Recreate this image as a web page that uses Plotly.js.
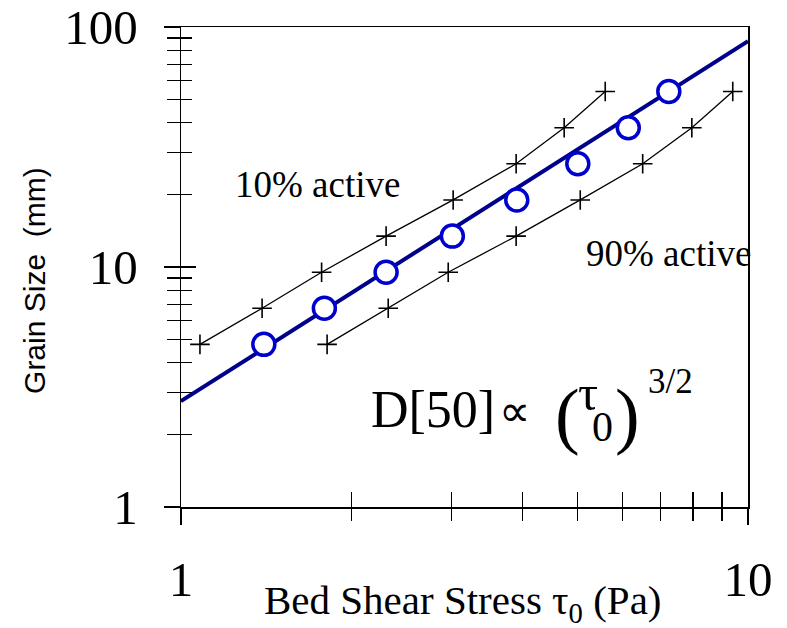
<!DOCTYPE html>
<html>
<head>
<meta charset="utf-8">
<script src="https://cdn.plot.ly/plotly-3.0.1.min.js"></script>
<style>html,body{margin:0;padding:0;background:#fff;}#chart{width:787px;height:628px;}</style>
</head>
<body>
<div id="chart"></div>
<script>
// Grain sizes (mm)
const grainSize = [4.76, 6.73, 9.51, 13.45, 19.03, 26.91, 38.05, 53.82];
// Bed shear stress (Pa) for each grain size
const tau50 = [1.40, 1.79, 2.30, 3.01, 3.91, 5.01, 6.15, 7.25];
const tau10 = [1.08, 1.39, 1.77, 2.30, 3.02, 3.90, 4.74, 5.60];
const tau90 = [1.81, 2.32, 2.96, 3.90, 5.06, 6.52, 7.96, 9.40];
// Fitted power law D50 ∝ tau^(3/2), end points
const fitTau = [1, 10];
const fitD = [2.76, 87.3];

const xMajor = [1, 10];
const xMinor = [2, 3, 4, 5, 6, 7, 8, 9];
const yMajor = [1, 10, 100];
const yMinor = [2, 3, 4, 5, 6, 7, 8, 9, 20, 30, 40, 50, 60, 70, 80, 90];

const serif = 'Liberation Serif, Times New Roman, serif';
const sans = 'Liberation Sans, Arial, sans-serif';

const traces = [
  {x: fitTau, y: fitD, mode: 'lines', line: {color: '#00008B', width: 4}, hoverinfo: 'skip', showlegend: false},
  {x: tau90, y: grainSize, mode: 'lines+markers', line: {color: '#000', width: 1.3},
   marker: {symbol: 'cross-thin', size: 14, line: {color: '#000', width: 1.6}}, showlegend: false},
  {x: tau50, y: grainSize, mode: 'markers',
   marker: {symbol: 'circle', size: 22, color: '#fff', line: {color: '#0000CC', width: 3.5}}, showlegend: false},
  {x: tau10, y: grainSize, xaxis: 'x2', yaxis: 'y2', mode: 'lines+markers', line: {color: '#000', width: 1.3},
   marker: {symbol: 'cross-thin', size: 14, line: {color: '#000', width: 1.6}}, showlegend: false}
];

const common = {type: 'log', showgrid: false, zeroline: false, fixedrange: true};

const layout = {
  width: 787, height: 628,
  margin: {l: 181, r: 39, t: 27, b: 121},
  paper_bgcolor: '#fff', plot_bgcolor: '#fff',
  showlegend: false,
  xaxis: Object.assign({}, common, {
    range: [0, 1], showline: true, linecolor: '#000', linewidth: 1.5, mirror: true,
    ticks: 'outside', ticklen: 16, tickwidth: 1.3, tickcolor: '#000',
    tickmode: 'array', tickvals: xMajor, ticktext: ['1', '10'],
    tickfont: {family: serif, size: 49, color: '#000'}, ticklabelstandoff: 13,
    minor: {tickmode: 'array', tickvals: xMinor, ticks: 'outside', ticklen: 12, tickwidth: 1.3, tickcolor: '#000', showgrid: false}
  }),
  yaxis: Object.assign({}, common, {
    range: [0, 2], showline: true, linecolor: '#000', linewidth: 1.5, mirror: true,
    ticks: 'outside', ticklen: 16, tickwidth: 1.3, tickcolor: '#000',
    tickmode: 'array', tickvals: yMajor, ticktext: ['1', '10', '100'],
    tickfont: {family: serif, size: 49, color: '#000'}, ticklabelstandoff: 16,
    minor: {tickmode: 'array', tickvals: yMinor, ticks: 'outside', ticklen: 13, tickwidth: 1.3, tickcolor: '#000', showgrid: false}
  }),
  xaxis2: Object.assign({}, common, {
    range: [0, 1], overlaying: 'x', anchor: 'y2', side: 'bottom', showline: false,
    ticks: 'inside', ticklen: 15, tickwidth: 1.3, tickcolor: '#000',
    tickmode: 'array', tickvals: xMinor, showticklabels: false
  }),
  yaxis2: Object.assign({}, common, {
    range: [0, 2], overlaying: 'y', anchor: 'x2', side: 'left', showline: false,
    ticks: 'inside', ticklen: 15, tickwidth: 1.3, tickcolor: '#000',
    tickmode: 'array', tickvals: [10], showticklabels: false,
    minor: {tickmode: 'array', tickvals: yMinor, ticks: 'inside', ticklen: 11, tickwidth: 1.3, tickcolor: '#000', showgrid: false}
  }),
  annotations: [
    {xref: 'paper', yref: 'paper', x: -0.2575, y: 0.473, text: 'Grain Size\u00a0 (mm)', textangle: -90,
     showarrow: false, font: {family: sans, size: 30, color: '#000'}, xanchor: 'center', yanchor: 'middle'},
    {xref: 'paper', yref: 'paper', x: 0.496, y: -0.199, text: 'Bed Shear Stress τ<sub>0</sub> (Pa)',
     showarrow: false, font: {family: serif, size: 41, color: '#000'}, xanchor: 'center', yanchor: 'middle', borderpad: 0},
    {xref: 'paper', yref: 'paper', x: 0.2416, y: 0.671, text: '10% active',
     showarrow: false, font: {family: serif, size: 37, color: '#000'}, xanchor: 'center', yanchor: 'middle'},
    {xref: 'paper', yref: 'paper', x: 0.860, y: 0.529, text: '90% active',
     showarrow: false, font: {family: serif, size: 37, color: '#000'}, xanchor: 'center', yanchor: 'middle'},
    {xref: 'paper', yref: 'paper', x: 0.4453, y: 0.204, text: 'D[50]',
     showarrow: false, font: {family: serif, size: 52, color: '#000'}, xanchor: 'center', yanchor: 'middle'},
    {xref: 'paper', yref: 'paper', x: 0.588, y: 0.198, text: '∝',
     showarrow: false, font: {family: serif, size: 44, color: '#000'}, xanchor: 'center', yanchor: 'middle'},
    {xref: 'paper', yref: 'paper', x: 0.6809, y: 0.191, text: '(', borderpad: 0,
     showarrow: false, font: {family: serif, size: 74, color: '#000'}, xanchor: 'center', yanchor: 'middle'},
    {xref: 'paper', yref: 'paper', x: 0.718, y: 0.238, text: 'τ', borderpad: 0,
     showarrow: false, font: {family: serif, size: 50, color: '#000'}, xanchor: 'center', yanchor: 'middle'},
    {xref: 'paper', yref: 'paper', x: 0.743, y: 0.166, text: '0', borderpad: 0,
     showarrow: false, font: {family: serif, size: 42, color: '#000'}, xanchor: 'center', yanchor: 'middle'},
    {xref: 'paper', yref: 'paper', x: 0.7875, y: 0.191, text: ')', borderpad: 0,
     showarrow: false, font: {family: serif, size: 74, color: '#000'}, xanchor: 'center', yanchor: 'middle'},
    {xref: 'paper', yref: 'paper', x: 0.863, y: 0.262, text: '3/2',
     showarrow: false, font: {family: serif, size: 35, color: '#000'}, xanchor: 'center', yanchor: 'middle'}
  ]
};

Plotly.newPlot('chart', traces, layout, {displayModeBar: false, staticPlot: true});
</script>
</body>
</html>
